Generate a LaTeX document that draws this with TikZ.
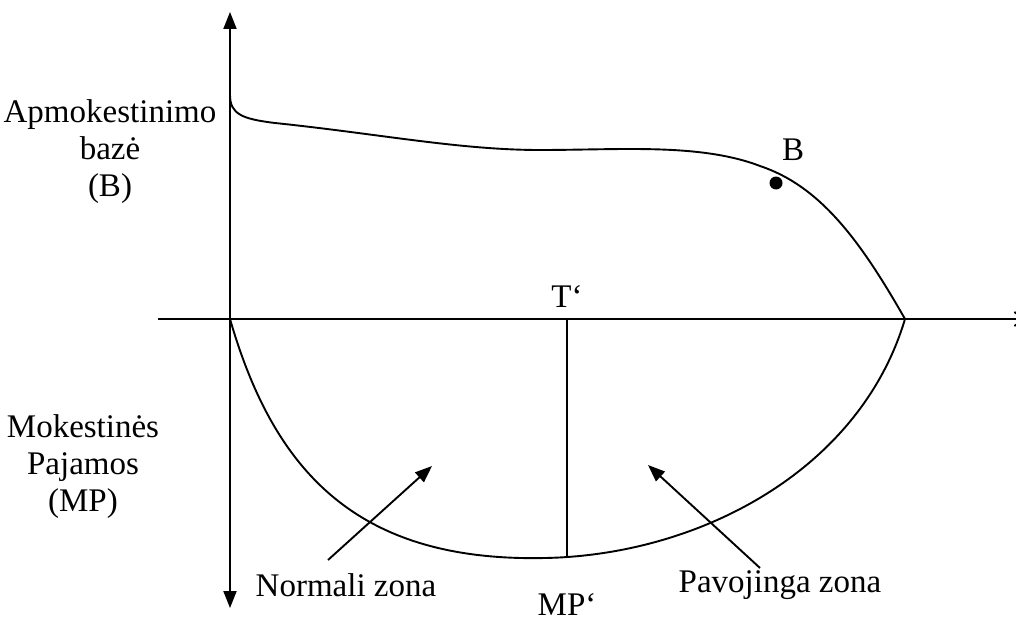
\documentclass[tikz,border=0pt]{standalone}
\usepackage{fontspec}
\setmainfont{Liberation Serif}
\usetikzlibrary{arrows.meta}
\begin{document}
\begin{tikzpicture}[x=1pt,y=-1pt,
  line/.style={line width=1.9pt},
  axisarrow/.style={line width=1.9pt,-{Triangle[length=17pt,width=13pt]}},
  lbl/.style={font=\fontsize{33}{37}\selectfont, align=center, inner sep=0pt},
  dotmark/.style={circle, fill=black, minimum size=13pt, inner sep=0pt}]
\useasboundingbox (0,0) rectangle (1016,623);
\clip (0,0) rectangle (1016,623);
% axes
\coordinate (O) at (230,319);
\coordinate (ytop) at (230,12);
\coordinate (ybot) at (230,608);
\coordinate (xleft) at (158,319);
\coordinate (xright) at (1026,319);
\draw[axisarrow] (O) -- (ytop);
\draw[axisarrow] (O) -- (ybot);
\draw[line,-{Straight Barb[length=10pt,width=14pt]}] (xleft) -- (xright);
% upper curve
\coordinate (U0) at (230,95);
\coordinate (U1) at (275,123);
\coordinate (U2) at (540,150);
\coordinate (U3) at (760,166);
\coordinate (X) at (905,319);
\draw[line] (U0) .. controls (230,114) and (242,119) .. (U1)
  .. controls (380,134) and (460,150) .. (U2)
  .. controls (620,150) and (700,143) .. (U3)
  .. controls (820,186) and (860,240) .. (X);
% lower curve
\coordinate (L0) at (545,558);
\draw[line] (O) .. controls (275,475) and (360,562) .. (L0)
  .. controls (700,555) and (860,470) .. (X);
% vertical line
\coordinate (Ttop) at (567,319);
\coordinate (Tbot) at (567,558);
\draw[line] (Ttop) -- (Tbot);
% B point
\node[dotmark] (Bdot) at (776,183) {};
\node[lbl] (Blab) at (793,150) {B};
\node[lbl] (Tlab) at (567,297) {T‘};
\node[lbl] (MPlab) at (567,605) {MP‘};
% side labels
\node[lbl] (Ylab) at (110,152) {Apmokestinimo\\bazė\\(B)};
\node[lbl] (MPside) at (83,467) {Mokestinės\\Pajamos\\(MP)};
% zones
\node[lbl] (Nz) at (346,585) {Normali zona};
\node[lbl] (Pz) at (780,585) {Pavojinga zona};
\coordinate (Nt) at (328,560);
\coordinate (Nh) at (432,466);
\coordinate (Pt) at (760,568);
\coordinate (Ph) at (648,465);
\draw[axisarrow] (Nt) -- (Nh);
\draw[axisarrow] (Pt) -- (Ph);
\end{tikzpicture}
\end{document}
